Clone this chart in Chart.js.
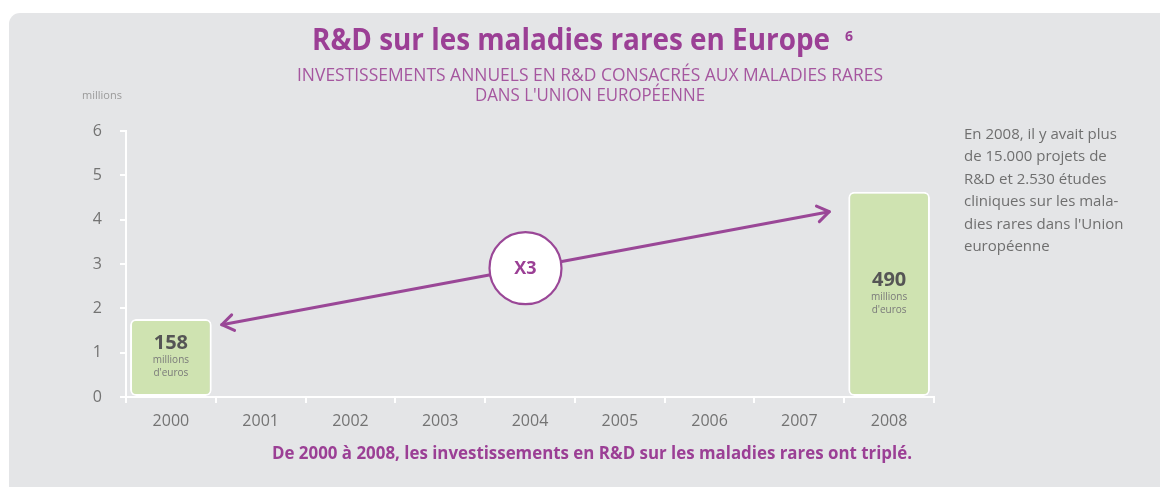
<!DOCTYPE html>
<html><head><meta charset="utf-8">
<script src="https://cdn.jsdelivr.net/npm/chart.js@4.4.1/dist/chart.umd.min.js"></script>
<style>html,body{margin:0;padding:0;background:#fff}#wrap{width:1160px;height:487px;position:relative}</style>
</head><body><div id="wrap"><canvas id="c"></canvas></div>
<script>
// ---- data ----
const years = ['2000','2001','2002','2003','2004','2005','2006','2007','2008'];
const investment = [1.76, null, null, null, null, null, null, null, 4.63];
const barValueLabels = ['158', null, null, null, null, null, null, null, '490'];
const barUnitLines = ['millions', "d'euros"];
const yTickValues = [0, 1, 2, 3, 4, 5, 6];
const yUnitLabel = 'millions';
const titleText = 'R&D sur les maladies rares en Europe';
const titleSup = '6';
const subtitleLines = ['INVESTISSEMENTS ANNUELS EN R&D CONSACRÉS AUX MALADIES RARES', "DANS L'UNION EUROPÉENNE"];
const noteLines = ['En 2008, il y avait plus', 'de 15.000 projets de', 'R&D et 2.530 études', 'cliniques sur les mala-', "dies rares dans l'Union", 'européenne'];
const captionText = 'De 2000 à 2008, les investissements en R&D sur les maladies rares ont triplé.';
const multiplierLabel = 'X3';
const arrowStart = {year: '2000', value: 1.63};
const arrowEnd = {year: '2008', value: 4.18};

const PURPLE = '#9b3f95';
const FONT = "'Open Sans', 'DejaVu Sans', sans-serif";

const decor = {
  id: 'decor',
  beforeDraw(chart) {
    const ctx = chart.ctx;
    ctx.save();
    ctx.fillStyle = '#e4e5e7';
    ctx.beginPath();
    ctx.roundRect(9, 13, 1170, 490, 11);
    ctx.fill();
    ctx.restore();
  },
  afterDatasetsDraw(chart) {
    const ctx = chart.ctx;
    const ys = chart.scales.y;
    const meta = chart.getDatasetMeta(0);
    ctx.save();
    // bar labels
    meta.data.forEach((bar, i) => {
      if (barValueLabels[i] == null) return;
      const mid = (bar.y + bar.base) / 2;
      ctx.textAlign = 'center';
      ctx.textBaseline = 'middle';
      ctx.fillStyle = '#555555';
      ctx.font = `bold 20px ${FONT}`;
      ctx.fillText(barValueLabels[i], bar.x, mid - 14);
      ctx.fillStyle = '#7a7a7a';
      ctx.font = `10px ${FONT}`;
      ctx.fillText(barUnitLines[0], bar.x, mid + 3, 40);
      ctx.fillText(barUnitLines[1], bar.x, mid + 16, 40);
    });
    // arrow
    const b0 = meta.data[years.indexOf(arrowStart.year)];
    const b1 = meta.data[years.indexOf(arrowEnd.year)];
    const x0 = b0.x + b0.width / 2 + 10, y0 = ys.getPixelForValue(arrowStart.value);
    const x1 = b1.x - b1.width / 2 - 19, y1 = ys.getPixelForValue(arrowEnd.value);
    ctx.strokeStyle = '#9a4797';
    ctx.lineWidth = 3;
    ctx.lineCap = 'round';
    ctx.lineJoin = 'round';
    ctx.beginPath(); ctx.moveTo(x0, y0); ctx.lineTo(x1, y1); ctx.stroke();
    const ang = Math.atan2(y1 - y0, x1 - x0);
    const head = (x, y, a) => {
      const L = 14, s = 0.6;
      ctx.beginPath();
      ctx.moveTo(x + L * Math.cos(a + s), y + L * Math.sin(a + s));
      ctx.lineTo(x, y);
      ctx.lineTo(x + L * Math.cos(a - s), y + L * Math.sin(a - s));
      ctx.stroke();
    };
    head(x1, y1, ang + Math.PI);
    head(x0, y0, ang);
    // circle
    const cx = (x0 + x1) / 2, cy = (y0 + y1) / 2;
    ctx.beginPath(); ctx.arc(cx, cy, 36, 0, Math.PI * 2);
    ctx.fillStyle = '#ffffff'; ctx.fill();
    ctx.lineWidth = 2.2; ctx.stroke();
    ctx.fillStyle = PURPLE;
    ctx.font = `bold 18px ${FONT}`;
    ctx.textAlign = 'center'; ctx.textBaseline = 'middle';
    ctx.fillText(multiplierLabel, cx, cy + 1);

    // title
    ctx.textBaseline = 'alphabetic';
    ctx.textAlign = 'left';
    ctx.fillStyle = PURPLE;
    ctx.font = `bold 30px ${FONT}`;
    ctx.fillText(titleText, 312, 50, 518);
    ctx.font = `bold 14px ${FONT}`;
    ctx.fillText(titleSup, 845, 41);
    // subtitle
    ctx.fillStyle = '#a5569f';
    ctx.font = `17.5px ${FONT}`;
    ctx.textAlign = 'center';
    ctx.fillText(subtitleLines[0], 590, 81, 586);
    ctx.fillText(subtitleLines[1], 590, 101, 230);
    // unit
    ctx.fillStyle = '#9a9a9a';
    ctx.font = `11px ${FONT}`;
    ctx.textAlign = 'left';
    ctx.fillText(yUnitLabel, 82, 99, 40);
    // note
    ctx.fillStyle = '#6f6f6f';
    ctx.font = `15px ${FONT}`;
    noteLines.forEach((t, i) => ctx.fillText(t, 964, 139 + i * 22.4, 180));
    // caption
    ctx.fillStyle = PURPLE;
    ctx.font = `bold 17px ${FONT}`;
    ctx.textAlign = 'center';
    ctx.fillText(captionText, 592, 459, 640);
    ctx.restore();
  }
};

new Chart(document.getElementById('c'), {
  type: 'bar',
  data: {
    labels: years,
    datasets: [{
      data: investment,
      backgroundColor: '#cfe3b1',
      borderColor: '#ffffff',
      borderWidth: 2,
      borderRadius: 6,
      borderSkipped: false,
      categoryPercentage: 1,
      barPercentage: 0.91
    }]
  },
  options: {
    responsive: true,
    maintainAspectRatio: false,
    animation: false,
    events: [],
    layout: {padding: {left: 0, right: 226, top: 131, bottom: 0}},
    plugins: {legend: {display: false}, tooltip: {enabled: false}},
    scales: {
      x: {
        grid: {drawOnChartArea: false, color: '#ffffff', lineWidth: 2, tickLength: 6, offset: true},
        border: {color: '#ffffff', width: 2},
        ticks: {color: '#737373', font: {family: FONT, size: 16}, padding: 9},
        afterFit(s) { s.height = 90; }
      },
      y: {
        min: 0, max: 6,
        afterBuildTicks(s) { s.ticks = yTickValues.map(v => ({value: v})); },
        grid: {drawOnChartArea: false, color: '#ffffff', lineWidth: 2, tickLength: 6},
        border: {color: '#ffffff', width: 2},
        ticks: {color: '#737373', font: {family: FONT, size: 16}, padding: 18},
        afterFit(s) { s.width = 126; }
      }
    }
  },
  plugins: [decor]
});
</script>
</body></html>
